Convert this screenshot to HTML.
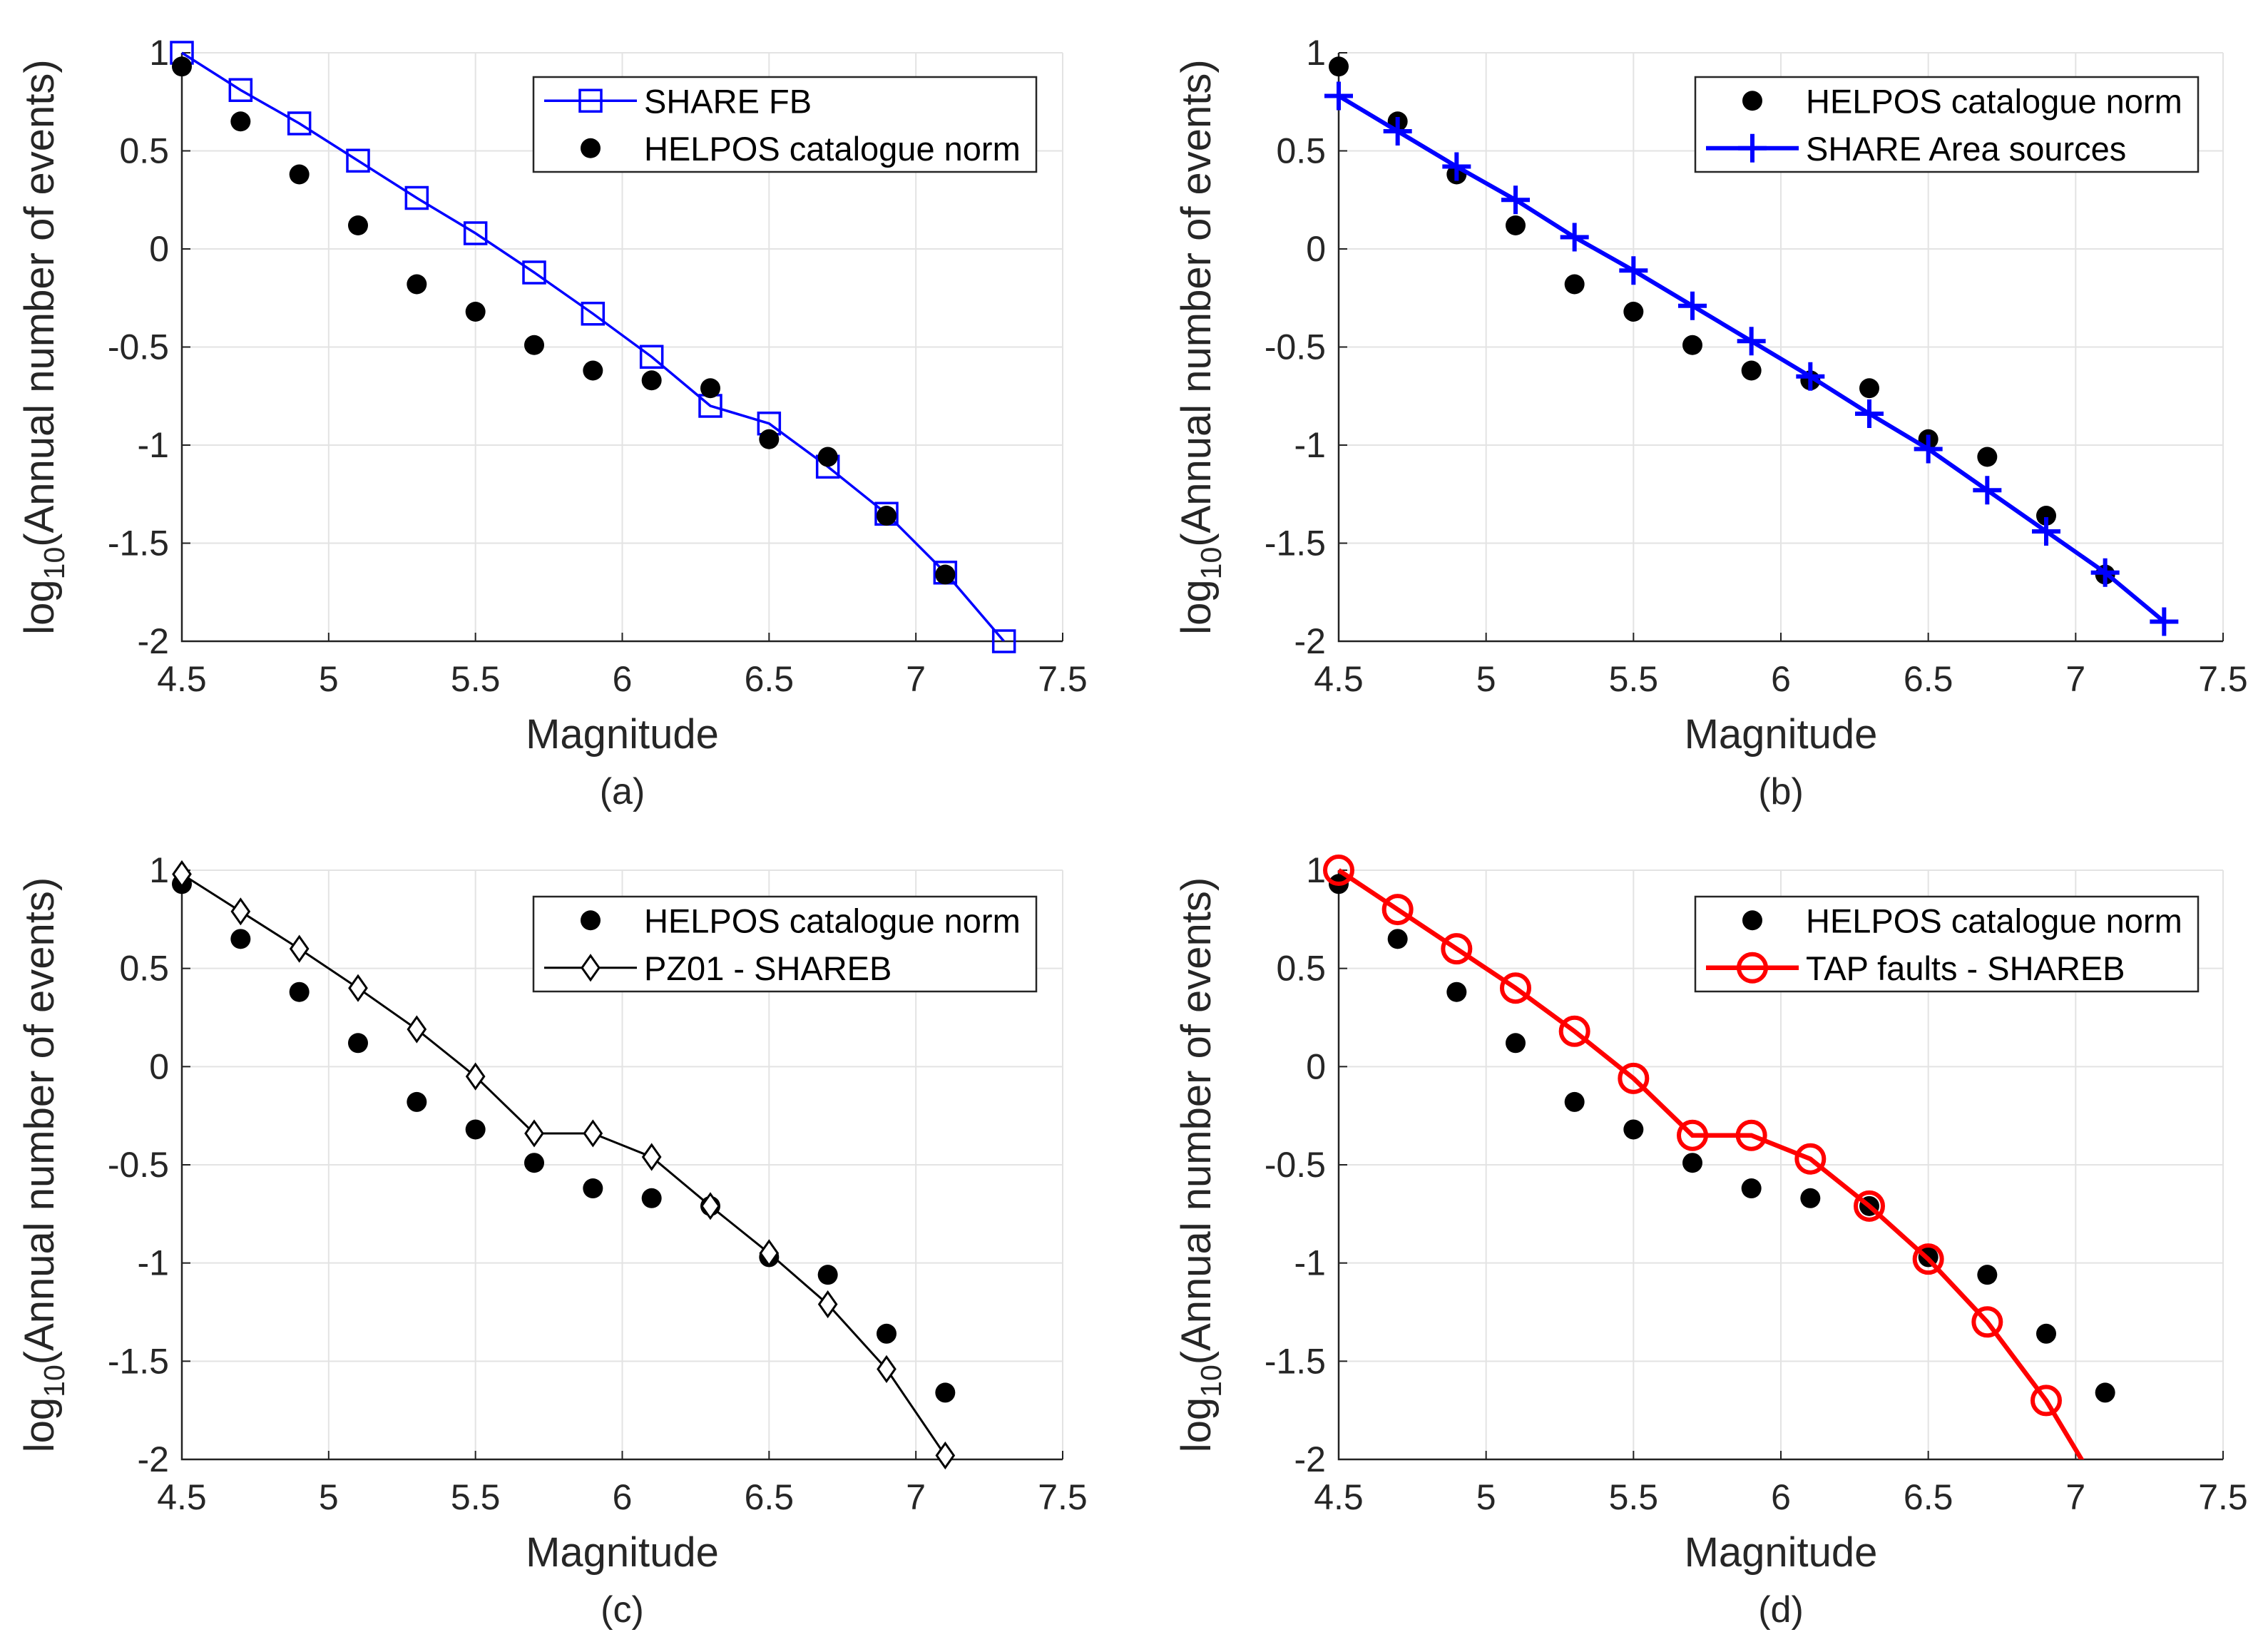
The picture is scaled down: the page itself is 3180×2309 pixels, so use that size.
<!DOCTYPE html>
<html><head><meta charset="utf-8"><style>
html,body{margin:0;padding:0;background:#fff;}
svg{display:block;font-family:"Liberation Sans",sans-serif;}
</style></head><body>
<svg id="fig" width="3180" height="2309" viewBox="0 0 3180 2309" xmlns="http://www.w3.org/2000/svg"></svg>
<script>
const xTicks=[4.5,5,5.5,6,6.5,7,7.5];
const xTickLabels=["4.5","5","5.5","6","6.5","7","7.5"];
const yTicks=[1,0.5,0,-0.5,-1,-1.5,-2];
const yTickLabels=["1","0.5","0","-0.5","-1","-1.5","-2"];
const helposM=[4.5,4.7,4.9,5.1,5.3,5.5,5.7,5.9,6.1,6.3,6.5,6.7,6.9,7.1];
const helposV=[0.93,0.65,0.38,0.12,-0.18,-0.32,-0.49,-0.62,-0.67,-0.71,-0.97,-1.06,-1.36,-1.66];
const shareFbM=[4.5,4.7,4.9,5.1,5.3,5.5,5.7,5.9,6.1,6.3,6.5,6.7,6.9,7.1,7.3];
const shareFbV=[1.0,0.81,0.64,0.45,0.26,0.08,-0.12,-0.33,-0.55,-0.80,-0.89,-1.11,-1.35,-1.65,-2.0];
const areaM=[4.5,4.7,4.9,5.1,5.3,5.5,5.7,5.9,6.1,6.3,6.5,6.7,6.9,7.1,7.3];
const areaV=[0.78,0.60,0.42,0.25,0.06,-0.11,-0.29,-0.47,-0.65,-0.84,-1.02,-1.23,-1.44,-1.65,-1.90];
const pzM=[4.5,4.7,4.9,5.1,5.3,5.5,5.7,5.9,6.1,6.3,6.5,6.7,6.9,7.1];
const pzV=[0.98,0.79,0.60,0.40,0.19,-0.05,-0.34,-0.34,-0.46,-0.71,-0.95,-1.21,-1.54,-1.98];
const tapM=[4.5,4.7,4.9,5.1,5.3,5.5,5.7,5.9,6.1,6.3,6.5,6.7,6.9,7.1];
const tapV=[1.0,0.80,0.60,0.40,0.18,-0.06,-0.35,-0.35,-0.47,-0.71,-0.98,-1.30,-1.70,-2.2];

const NS="http://www.w3.org/2000/svg";
const svg=document.getElementById('fig');
function mk(tag,attrs,parent){const e=document.createElementNS(NS,tag);for(const k in attrs)e.setAttribute(k,attrs[k]);(parent||svg).appendChild(e);return e;}

const panels=[
 {id:'a',x0:255,x1:1490,y0:74,y1:899},
 {id:'b',x0:1877,x1:3117,y0:74,y1:899},
 {id:'c',x0:255,x1:1490,y0:1220,y1:2046},
 {id:'d',x0:1877,x1:3117,y0:1220,y1:2046}
];

function drawPanel(p){
  const g=mk('g',{});
  
  
  const sx=m=>p.x0+(m-4.5)/3*(p.x1-p.x0);
  const sy=v=>p.y0+(1-v)/3*(p.y1-p.y0);
  p.sx=sx;p.sy=sy;
  xTicks.forEach((t,i)=>{
    const gl=mk('line',{x1:sx(t),x2:sx(t),y1:p.y0,y2:p.y1,stroke:'#e3e3e3','stroke-width':2},g);
    
    
    mk('line',{x1:sx(t),x2:sx(t),y1:p.y1,y2:p.y1-12,stroke:'#222','stroke-width':2},g);
    const tx=mk('text',{x:sx(t),y:p.y1+70,'font-size':50,'text-anchor':'middle',fill:'#262626'},g);
    tx.textContent=xTickLabels[i];
    
    
  });
  yTicks.forEach((t,i)=>{
    const gl=mk('line',{x1:p.x0,x2:p.x1,y1:sy(t),y2:sy(t),stroke:'#e3e3e3','stroke-width':2},g);
    
    
    mk('line',{x1:p.x0,x2:p.x0+12,y1:sy(t),y2:sy(t),stroke:'#222','stroke-width':2},g);
    const tx=mk('text',{x:p.x0-18,y:sy(t)+17,'font-size':50,'text-anchor':'end',fill:'#262626'},g);
    tx.textContent=yTickLabels[i];
    
    
  });
  const ax=mk('path',{d:`M${p.x0},${p.y0} V${p.y1} H${p.x1}`,fill:'none',stroke:'#222','stroke-width':2.5},g);
  
  
  const xl=mk('text',{x:(p.x0+p.x1)/2,y:p.y1+150,'font-size':58,'text-anchor':'middle',fill:'#262626'},g);
  xl.textContent='Magnitude';
  
  
  const cap=mk('text',{x:(p.x0+p.x1)/2,y:p.y1+228,'font-size':52,'text-anchor':'middle',fill:'#262626'},g);
  cap.textContent='('+p.id+')';
  
  
  const cy=(p.y0+p.y1)/2, cx=p.x0-180;
  const yl=mk('text',{x:cx,y:cy,'font-size':58,'text-anchor':'middle',fill:'#262626',transform:`rotate(-90 ${cx} ${cy})`},g);
  
  
  yl.innerHTML='log<tspan font-size="41" dy="15">10</tspan><tspan dy="-15">(Annual number of events)</tspan>';
  const cp=mk('clipPath',{id:'clip'+p.id},g);
  mk('rect',{x:p.x0-40,y:p.y0-40,width:p.x1-p.x0+80,height:p.y1-p.y0+40},cp);
  p.g=g;
  return g;
}

function dots(p,M,V){
  M.forEach((m,i)=>{
    const c=mk('circle',{cx:p.sx(m),cy:p.sy(V[i]),r:14,fill:'#000'},p.g);
    
    
  });
}
function line(p,M,V,color,w,name){
  const d=M.map((m,i)=>(i?'L':'M')+p.sx(m)+','+p.sy(V[i])).join(' ');
  const l=mk('path',{d:d,fill:'none',stroke:color,'stroke-width':w,'clip-path':`url(#clip${p.id})`},p.g);
  
  
}
function marker(g,type,x,y,color){
  let e;
  if(type==='sq') e=mk('rect',{x:x-15,y:y-15,width:30,height:30,fill:'none',stroke:color,'stroke-width':3.5},g);
  else if(type==='plus') e=mk('path',{d:`M${x-20},${y}H${x+20}M${x},${y-20}V${y+20}`,stroke:color,'stroke-width':6},g);
  else if(type==='dia') e=mk('path',{d:`M${x},${y-17}L${x+12},${y}L${x},${y+17}L${x-12},${y}Z`,fill:'#fff',stroke:'#000','stroke-width':3},g);
  else if(type==='circ') e=mk('circle',{cx:x,cy:y,r:19,fill:'none',stroke:color,'stroke-width':6},g);
  return e;
}
function markers(p,M,V,type,color,name){
  M.forEach((m,i)=>{
    if(V[i]<-2.01) return;
    const e=marker(p.g,type,p.sx(m),p.sy(V[i]),color);
    
    
  });
}
function legend(p,x,y,w,h,entries){
  const lg=mk('g',{},p.g);
  
  
  mk('rect',{x:x,y:y,width:w,height:h,fill:'#fff',stroke:'#262626','stroke-width':2.5},lg);
  entries.forEach((en,i)=>{
    const ey=y+h*(i*2+1)/4;
    const eg=mk('g',{},lg);
    
    
    const mx=x+80;
    if(en.type==='dot') mk('circle',{cx:mx,cy:ey,r:14,fill:'#000'},eg);
    else{
      mk('line',{x1:x+15,x2:x+145,y1:ey,y2:ey,stroke:en.color,'stroke-width':en.w},eg);
      marker(eg,en.type,mx,ey,en.color);
    }
    const t=mk('text',{x:x+155,y:ey+17,'font-size':47,fill:'#000'},eg);
    t.textContent=en.label;
  });
}

panels.forEach(drawPanel);
const [pa,pb,pc,pd]=panels;
line(pa,shareFbM,shareFbV,'#0000ff',3.5,'share-fb');
markers(pa,shareFbM,shareFbV,'sq','#0000ff','share-fb');
dots(pa,helposM,helposV);
legend(pa,748,108,705,133,[{type:'sq',color:'#0000ff',w:3.5,label:'SHARE FB'},{type:'dot',label:'HELPOS catalogue norm'}]);
dots(pb,helposM,helposV);
line(pb,areaM,areaV,'#0000ff',6,'share-area');
markers(pb,areaM,areaV,'plus','#0000ff','share-area');
legend(pb,2377,108,705,133,[{type:'dot',label:'HELPOS catalogue norm'},{type:'plus',color:'#0000ff',w:6,label:'SHARE Area sources'}]);
dots(pc,helposM,helposV);
line(pc,pzM,pzV,'#000',3,'pz01');
markers(pc,pzM,pzV,'dia','#000','pz01');
legend(pc,748,1257,705,133,[{type:'dot',label:'HELPOS catalogue norm'},{type:'dia',color:'#000',w:3,label:'PZ01 - SHAREB'}]);
dots(pd,helposM,helposV);
line(pd,tapM,tapV,'#ff0000',6.5,'tap-faults');
markers(pd,tapM,tapV,'circ','#ff0000','tap-faults');
legend(pd,2377,1257,705,133,[{type:'dot',label:'HELPOS catalogue norm'},{type:'circ',color:'#ff0000',w:6.5,label:'TAP faults - SHAREB'}]);
</script>
</body></html>
